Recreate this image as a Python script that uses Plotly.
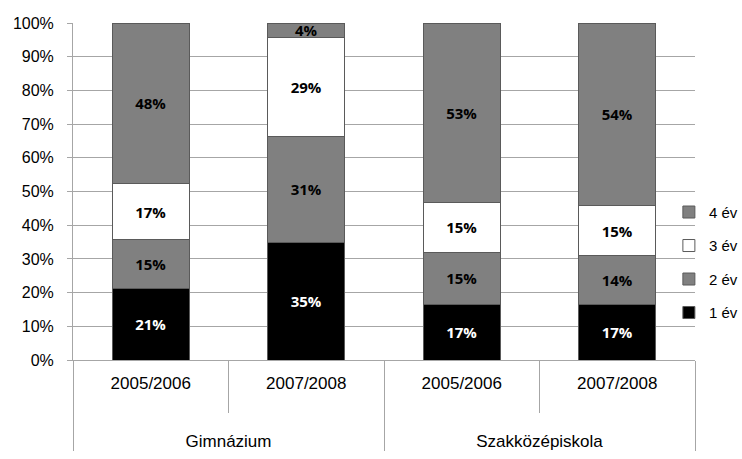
import plotly.graph_objects as go

schools = ["<br><br>Gimnázium", "<br><br>Gimnázium",
           "<br><br>Szakközépiskola", "<br><br>Szakközépiskola"]
years = ["2005/2006", "2007/2008", "2005/2006", "2007/2008"]

ev1 = [21.1, 35.0, 16.6, 16.6]
ev2 = [14.6, 31.4, 15.4, 14.3]
ev3 = [16.6, 29.3, 14.7, 14.8]
ev4 = [47.7, 4.3, 53.3, 54.3]

series = [
    ("1 év", ev1, "#000000", "#ffffff"),
    ("2 év", ev2, "#808080", "#000000"),
    ("3 év", ev3, "#ffffff", "#000000"),
    ("4 év", ev4, "#808080", "#000000"),
]

fig = go.Figure()
for i, (name, vals, color, txtcolor) in enumerate(series):
    fig.add_trace(go.Bar(
        x=[schools, years],
        y=vals,
        name=name,
        legendgroup=name,
        legendrank=1000 - i,
        marker=dict(color=color, line=dict(color="#5a5a5a", width=1)),
        text=[f"{round(v)}%" for v in vals],
        textposition="inside",
        insidetextanchor="middle",
        constraintext="none",
        textfont=dict(family="Open Sans", size=15, color=txtcolor, weight="bold"),
        textangle=0,
    ))

fig.update_layout(
    width=742, height=459,
    barmode="stack",
    bargap=0.505,
    plot_bgcolor="white",
    paper_bgcolor="white",
    margin=dict(l=73, r=47, t=23, b=99, autoexpand=False),
    font=dict(family="Liberation Sans", size=16, color="#000000"),
    legend=dict(
        x=0.958, xanchor="left", y=0.29, yanchor="middle",
        traceorder="grouped", tracegroupgap=11,
        font=dict(family="Liberation Sans", size=15),
        bgcolor="rgba(0,0,0,0)",
        itemwidth=30,
    ),
    showlegend=True,
)

fig.update_yaxes(
    range=[0, 100],
    dtick=10,
    ticksuffix="%",
    showgrid=True, gridcolor="#a6a6a6", gridwidth=1,
    showline=True, linecolor="#a6a6a6", linewidth=1,
    ticks="outside", ticklen=5, tickcolor="#a6a6a6",
    ticklabelstandoff=10,
    tickfont=dict(family="Liberation Sans", size=16),
    zeroline=False,
)

fig.update_xaxes(
    type="multicategory",
    showline=True, linecolor="#a6a6a6", linewidth=1,
    ticks="outside", tickson="boundaries", ticklen=52, tickcolor="#a6a6a6",
    showdividers=True, dividercolor="#a6a6a6", dividerwidth=1,
    ticklabelstandoff=8,
    tickfont=dict(family="Liberation Sans", size=17),
)

fig.write_html("out.html", config={"displayModeBar": False},
               post_script="document.body.style.margin='0';")
